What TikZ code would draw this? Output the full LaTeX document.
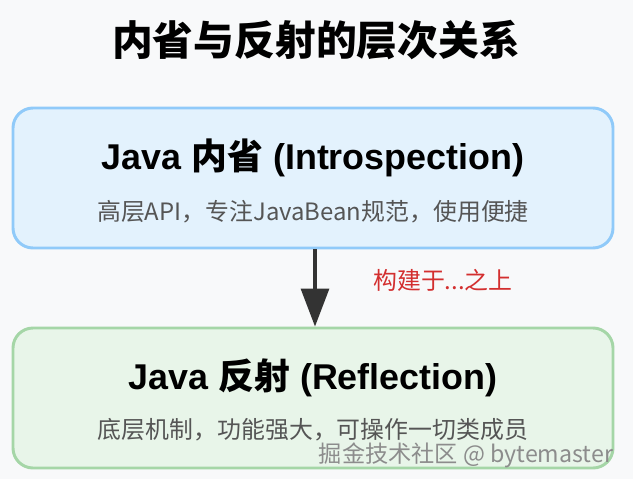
\documentclass[tikz,border=0pt]{standalone}
\usepackage{fontspec}
\setmainfont{Liberation Sans}
\newfontfamily\cjk{Noto Sans CJK SC}
\usetikzlibrary{arrows.meta}

\definecolor{fondo}{HTML}{F8F9FA}
\definecolor{azulfill}{HTML}{E3F2FD}
\definecolor{azulline}{HTML}{90CAF9}
\definecolor{verdefill}{HTML}{E8F5E9}
\definecolor{verdeline}{HTML}{A5D6A7}
\definecolor{gristxt}{HTML}{555555}
\definecolor{rojotxt}{HTML}{D32F2F}

\tikzset{
    capa/.style={rectangle, rounded corners=0.5cm, line width=2.1pt, minimum width=15cm, minimum height=3.5cm},
    titulo/.style={font=\fontsize{25.5}{30}\selectfont\bfseries},
    detalle/.style={font=\fontsize{17}{20}\selectfont\cjk, text=gristxt}
}

\begin{document}
\begin{tikzpicture}
    \fill[fondo] (0,0) rectangle (15.825,-11.975);
    \useasboundingbox (0,0) rectangle (15.825,-11.975);

    \node[font=\fontsize{29}{34}\selectfont\cjk\bfseries] (title) at (7.9,-1.0) {内省与反射的层次关系};

    % Capas
    \node[capa, draw=azulline, fill=azulfill] (intro) at (7.825,-4.45) {};
    \node[titulo] (introT) at (7.825,-3.95) {Java {\cjk 内省} (Introspection)};
    \node[detalle] (introD) at (7.825,-5.3) {高层API，专注JavaBean规范，使用便捷};

    \node[capa, draw=verdeline, fill=verdefill] (refl) at (7.825,-9.95) {};
    \node[titulo] (reflT) at (7.825,-9.45) {Java {\cjk 反射} (Reflection)};
    \node[detalle] (reflD) at (7.825,-10.75) {底层机制，功能强大，可操作一切类成员};

    % Relacion
    \draw[line width=2.3pt, color=black!80, -{Triangle[length=0.95cm, width=0.7cm]}] (intro.south) ++(0.05,0) coordinate (arriba) (arriba) -- (arriba |- refl.north);
    \node[font=\fontsize{17}{20}\selectfont\cjk, text=rojotxt] (rel) at (11.075,-7.0) {构建于...之上};

    \node[font=\fontsize{16.5}{19}\selectfont\cjk, text=black!45, anchor=east] (marca) at (15.45,-11.38) {掘金技术社区 @ bytemaster};
\end{tikzpicture}
\end{document}
